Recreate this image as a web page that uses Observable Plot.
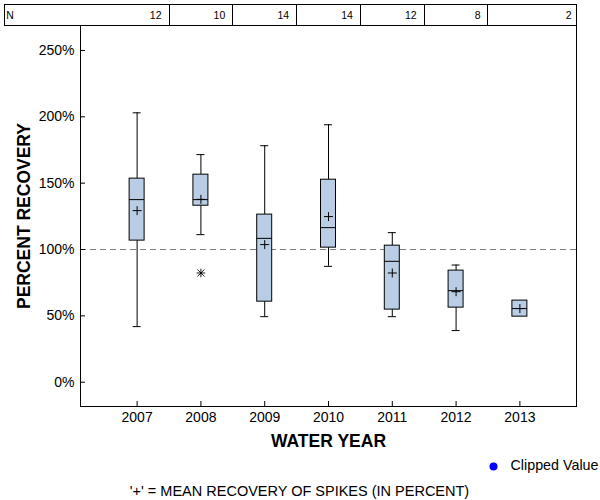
<!DOCTYPE html>
<html>
<head>
<meta charset="utf-8">
<script src="https://cdn.jsdelivr.net/npm/d3@7"></script>
<script src="https://cdn.jsdelivr.net/npm/@observablehq/plot@0.6"></script>
<style>
  html, body { margin: 0; padding: 0; background: #fff; }
  #chart { width: 600px; height: 500px; }
</style>
</head>
<body>
<div id="chart"></div>
<script>
// ---- data ----
const years = ["2007", "2008", "2009", "2010", "2011", "2012", "2013"];
const counts = [12, 10, 14, 14, 12, 8, 2];
const whiskerLow = [41.9, 111.2, 49.4, 87.3, 49.4, 38.9, null];
const q1 = [106.7, 133.0, 60.7, 101.4, 54.7, 56.2, 49.4];
const medians = [137.6, 137.6, 108.4, 116.5, 91.1, 69.0, 55.5];
const q3 = [153.4, 156.4, 126.3, 152.6, 102.9, 84.1, 61.5];
const whiskerHigh = [203.0, 171.5, 178.2, 194.0, 112.7, 88.3, null];
const means = [129.3, 137.8, 103.7, 124.8, 82.3, 68.2, 55.5];
const outlierYears = ["2008"];
const outlierValues = [82.3];
const yTicks = [0, 50, 100, 150, 200, 250];
const referenceLevel = [100];

const rows = years.map((year, i) => ({
  year, n: counts[i], lo: whiskerLow[i], q1: q1[i], med: medians[i],
  q3: q3[i], hi: whiskerHigh[i], mean: means[i]
}));
const whiskerRows = rows.filter(d => d.lo != null && d.hi != null);
const outliers = outlierYears.map((year, i) => ({year, value: outlierValues[i]}));

const FONT = "'Liberation Sans', Arial, Helvetica, sans-serif";

// N table drawn above the frame, aligned on the x scale
function countTable(index, scales, values, dimensions) {
  const x = scales.x;
  const bw = typeof x.bandwidth === "function" ? x.bandwidth() : 0;
  const step = x(years[1]) - x(years[0]);
  const center = y => x(y) + bw / 2;
  const right = dimensions.width - dimensions.marginRight + 0.5;
  const top = 4.5, bottom = dimensions.marginTop + 0.5, left = 4.5;
  const g = d3.create("svg:g")
    .attr("font-family", FONT).attr("font-size", 10.5).attr("fill", "black");
  g.append("rect")
    .attr("x", left).attr("y", top)
    .attr("width", right - left).attr("height", bottom - top)
    .attr("fill", "none").attr("stroke", "black");
  years.slice(0, -1).forEach(y => {
    const xx = Math.round(center(y) + step / 2) + 0.5;
    g.append("line").attr("x1", xx).attr("x2", xx).attr("y1", top).attr("y2", bottom)
      .attr("stroke", "black");
  });
  g.append("text").attr("x", 10).attr("y", 19.3).text("N");
  years.forEach((y, i) => {
    const edge = i < years.length - 1 ? center(y) + step / 2 : right;
    g.append("text").attr("x", edge - (i < years.length - 1 ? 7 : 5)).attr("y", 19.3)
      .attr("text-anchor", "end").text(String(counts[i]));
  });
  return g.node();
}

const plot = Plot.plot({
  width: 600,
  height: 500,
  marginLeft: 80,
  marginRight: 24,
  marginTop: 25,
  marginBottom: 94,
  style: {fontFamily: FONT, fontSize: "14px", color: "black", background: "white"},
  x: {type: "band", domain: years, paddingInner: 0.765, paddingOuter: 0.77, round: false},
  y: {domain: [-18.3, 268.8]},
  marks: [
    Plot.ruleY(referenceLevel, {stroke: "#808080", strokeDasharray: "6,4"}),
    Plot.ruleX(whiskerRows, {x: "year", y1: "lo", y2: "q1", stroke: "black"}),
    Plot.ruleX(whiskerRows, {x: "year", y1: "q3", y2: "hi", stroke: "black"}),
    Plot.tickY(whiskerRows, {x: "year", y: "lo", stroke: "black", insetLeft: 3.5, insetRight: 3.5}),
    Plot.tickY(whiskerRows, {x: "year", y: "hi", stroke: "black", insetLeft: 3.5, insetRight: 3.5}),
    Plot.barY(rows, {x: "year", y1: "q1", y2: "q3", fill: "#b9cde5", stroke: "black"}),
    Plot.tickY(rows, {x: "year", y: "med", stroke: "black"}),
    Plot.dot(rows, {x: "year", y: "mean", symbol: "plus", r: 3, stroke: "black", strokeWidth: 1}),
    Plot.dot(outliers, {x: "year", y: "value", symbol: "plus", r: 2.9, stroke: "black", strokeWidth: 0.9}),
    Plot.dot(outliers, {x: "year", y: "value", symbol: "times", r: 3.3, stroke: "black", strokeWidth: 0.9}),
    Plot.dot(outliers, {x: "year", y: "value", r: 0.9, fill: "black"}),
    Plot.frame({stroke: "black"}),
    Plot.axisY(yTicks, {tickSize: 5, insetLeft: 5, tickPadding: 6, tickFormat: d => d + "%", fontSize: 14, label: null}),
    Plot.axisX({tickSize: 5, insetBottom: 5, tickPadding: 6, fontSize: 14, label: null}),
    Plot.text(["PERCENT RECOVERY"], {frameAnchor: "left", dx: -56, rotate: -90, fontSize: 17.5, fontWeight: "bold", textAnchor: "middle"}),
    Plot.text(["WATER YEAR"], {frameAnchor: "bottom", dy: 40, fontSize: 17.5, fontWeight: "bold", textAnchor: "middle"}),
    Plot.dot([0], {frameAnchor: "bottom-right", dx: -83, dy: 60, r: 4, fill: "#0000ff"}),
    Plot.text(["Clipped Value"], {frameAnchor: "bottom-right", dx: -66, dy: 63, fontSize: 14.3, textAnchor: "start"}),
    Plot.text(["'+' = MEAN RECOVERY OF SPIKES (IN PERCENT)"], {frameAnchor: "bottom", dx: -29, dy: 89, fontSize: 14.5, textAnchor: "middle"}),
    countTable
  ]
});
document.getElementById("chart").appendChild(plot);
</script>
</body>
</html>
